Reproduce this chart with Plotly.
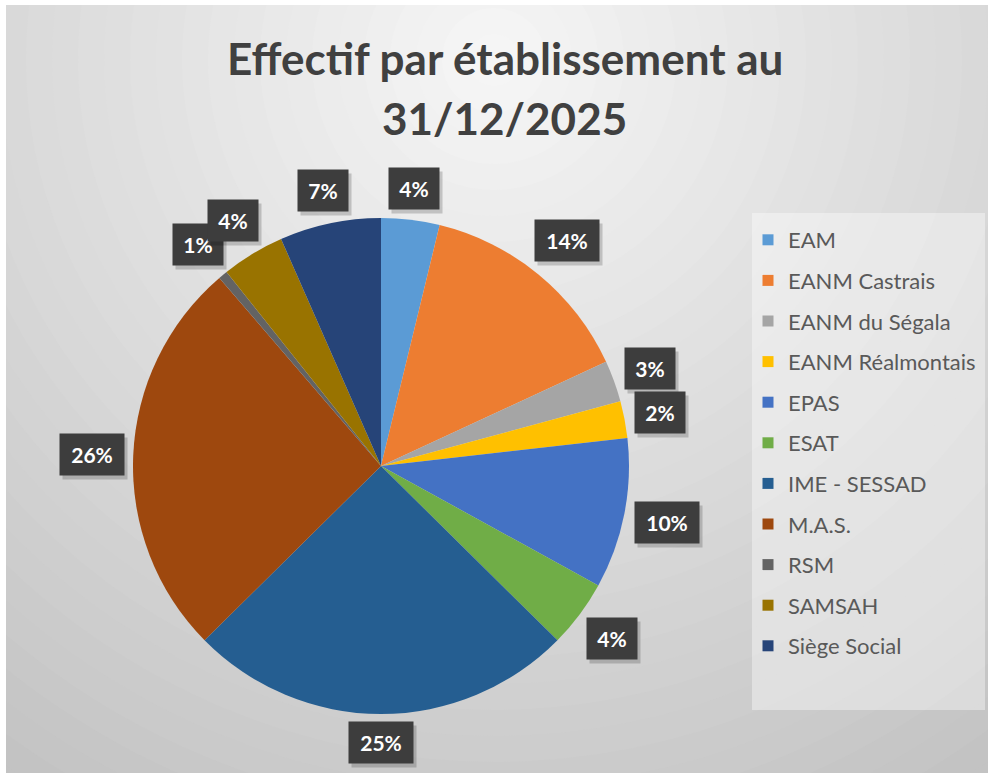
import math
import plotly.graph_objects as go

# ---------------- data ----------------
categories = ["EAM", "EANM Castrais", "EANM du Ségala", "EANM Réalmontais", "EPAS",
              "ESAT", "IME - SESSAD", "M.A.S.", "RSM", "SAMSAH", "Siège Social"]
values = [3.8, 14.3, 2.7, 2.4, 9.8, 4.4, 25.2, 26.1, 0.6, 4.1, 6.6]
colors = ["#5B9BD5", "#ED7D31", "#A5A5A5", "#FFC000", "#4472C4", "#70AD47",
          "#255E91", "#9E480E", "#636363", "#997300", "#264478"]
title_lines = ["Effectif par établissement au", "31/12/2025"]

# ---------------- geometry (pixels) ----------------
W, H = 988, 773
CX, CY, R = 381, 466, 248


def px(x):
    return x / W


def py(y):
    return 1 - y / H


fig = go.Figure()

fig.add_trace(go.Pie(
    labels=categories, values=values, sort=False, direction="clockwise",
    rotation=0, marker=dict(colors=colors, line=dict(width=0)),
    textinfo="none", hoverinfo="label+percent", showlegend=False,
    domain=dict(x=[px(CX - R), px(CX + R)], y=[py(CY + R), py(CY - R)]),
))

# legend via dummy traces (one group each so the gap can be set)
for c, col in zip(categories, colors):
    fig.add_trace(go.Scatter(
        x=[None], y=[None], mode="markers", name=c, legendgroup=c,
        marker=dict(symbol="square", size=11, color=col),
    ))

shapes = []
# radial background gradient
gcx, gcy = 494, 60
steps = 34
for i in range(steps, 0, -1):
    r = i * 26
    g = int(round(246 - 0.06 * (r - 13)))
    g = max(g, 195)
    shapes.append(dict(type="circle", xref="paper", yref="paper", layer="below",
                       x0=px(gcx - r), x1=px(gcx + r), y0=py(gcy + r), y1=py(gcy - r),
                       fillcolor=f"rgb({g},{g},{g})", line=dict(width=0)))
# white frame strips (top / left)
shapes.append(dict(type="rect", xref="paper", yref="paper", layer="below",
                   x0=0, x1=1, y0=py(5), y1=1, fillcolor="white", line=dict(width=0)))
shapes.append(dict(type="rect", xref="paper", yref="paper", layer="below",
                   x0=0, x1=px(6), y0=0, y1=1, fillcolor="white", line=dict(width=0)))
# legend panel
shapes.append(dict(type="rect", xref="paper", yref="paper", layer="below",
                   x0=px(752), x1=px(985), y0=py(710), y1=py(213),
                   fillcolor="rgba(255,255,255,0.38)", line=dict(width=0)))

annotations = []
# title (two lines, placed separately for the line spacing)
for line, yc in zip(title_lines, [58, 118]):
    annotations.append(dict(text="<b>" + line + "</b>", xref="paper", yref="paper",
                            x=px(505), y=py(yc), xanchor="center", yanchor="middle",
                            showarrow=False, align="center",
                            font=dict(family="Lato, Open Sans, sans-serif", size=44,
                                      color="#404040")))

# data labels (outside end, dark boxes)
total = sum(values)
cum = 0.0
BOX_H = 41
for v in values:
    mid = (cum + v / 2) / total
    cum += v
    pct = f"{round(v / total * 100)}%"
    bw = 14 * len(pct) + 10 + 12
    th = 2 * math.pi * mid
    ux, uy = math.sin(th), -math.cos(th)
    d = R + 8 + abs(ux) * bw / 2 + abs(uy) * BOX_H / 2
    lx, ly = CX + ux * d, CY + uy * d
    # shadow
    annotations.append(dict(text="", xref="paper", yref="paper",
                            x=px(lx + 3), y=py(ly + 4), xanchor="center", yanchor="middle",
                            showarrow=False, width=bw - 12, height=BOX_H - 12, borderpad=6,
                            bgcolor="rgba(0,0,0,0.18)"))
    annotations.append(dict(text="<b>" + pct + "</b>", xref="paper", yref="paper",
                            x=px(lx), y=py(ly), xanchor="center", yanchor="middle",
                            showarrow=False, width=bw - 12, height=BOX_H - 12, borderpad=6,
                            bgcolor="#3d3d3d",
                            font=dict(family="Lato, Open Sans, sans-serif", size=21,
                                      color="white")))

fig.update_layout(
    width=W, height=H, margin=dict(l=0, r=0, t=0, b=0),
    paper_bgcolor="#c4c4c4", plot_bgcolor="rgba(0,0,0,0)",
    xaxis=dict(visible=False), yaxis=dict(visible=False),
    shapes=shapes, annotations=annotations,
    legend=dict(x=px(748), y=py(219), xanchor="left", yanchor="top",
                bgcolor="rgba(0,0,0,0)", tracegroupgap=9,
                font=dict(family="Lato, Open Sans, sans-serif", size=22, color="#595959"),
                itemclick=False, itemdoubleclick=False),
    showlegend=True,
)

fig.write_html("out.html")
